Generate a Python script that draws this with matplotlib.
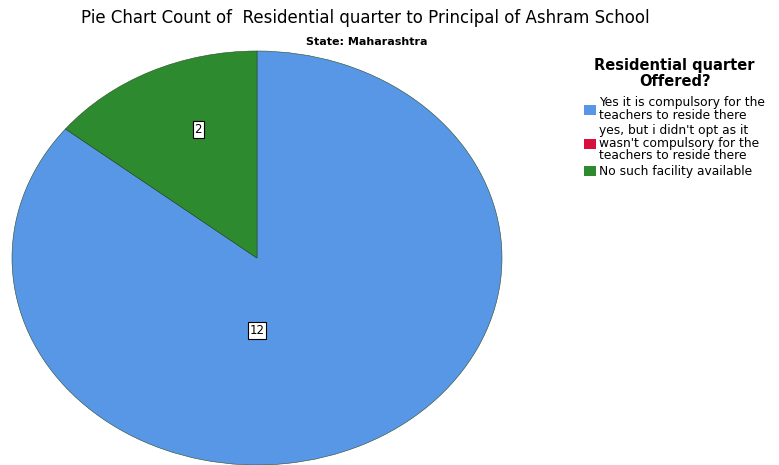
import numpy as np
import matplotlib.pyplot as plt
from matplotlib.patches import Patch

plt.rcParams['font.family'] = ['DejaVu Sans']

categories = ['Yes it is compulsory for the\nteachers to reside there',
              "yes, but i didn't opt as it\nwasn't compulsory for the\nteachers to reside there",
              'No such facility available']
counts = [12, 0, 2]
colors = ['#5897e6', '#d9103d', '#2e8a2e']

fig = plt.figure(figsize=(7.79, 4.65), dpi=100)
ax = fig.add_axes([12 / 779, 0.0, 490 / 779, 414 / 465])

wedges, _ = ax.pie(counts, colors=colors, startangle=90, counterclock=False,
                   wedgeprops=dict(edgecolor='#2a4a2a', linewidth=0.4))
ax.set_aspect('auto')
ax.set_xlim(-1, 1)
ax.set_ylim(-1, 1)

# value labels in white boxes
label_pos = {0: (0.0, -0.35), 2: (-0.24, 0.62)}
for i, (x, y) in label_pos.items():
    ax.text(x, y, str(counts[i]), ha='center', va='center', fontsize=8.5,
            bbox=dict(boxstyle='square,pad=0.15', fc='white', ec='black', lw=0.8))

fig.text(365 / 779, 1 - 18 / 465,
         'Pie Chart Count of  Residential quarter to Principal of Ashram School',
         ha='center', va='center', fontsize=12)
fig.text(367 / 779, 1 - 42 / 465, 'State: Maharashtra', ha='center', va='center',
         fontsize=8, fontweight='bold')

handles = [Patch(facecolor=c, edgecolor='none') for c in colors]
leg = fig.legend(handles, categories, loc='upper left', bbox_to_anchor=(584 / 779, 1 - 58 / 465),
                 frameon=False, fontsize=8.8, title='Residential quarter\nOffered?',
                 title_fontproperties={'weight': 'bold', 'size': 10.5},
                 alignment='center',
                 handlelength=1.0, handleheight=0.9, handletextpad=0.25,
                 labelspacing=0.22, borderaxespad=0, borderpad=0)
for t in leg.get_texts():
    t.set_linespacing(0.95)
leg.get_title().set_linespacing(1.1)
leg.get_title().set_multialignment('center')
leg._legend_box.sep = 5

fig.savefig('out.png', dpi=100)
